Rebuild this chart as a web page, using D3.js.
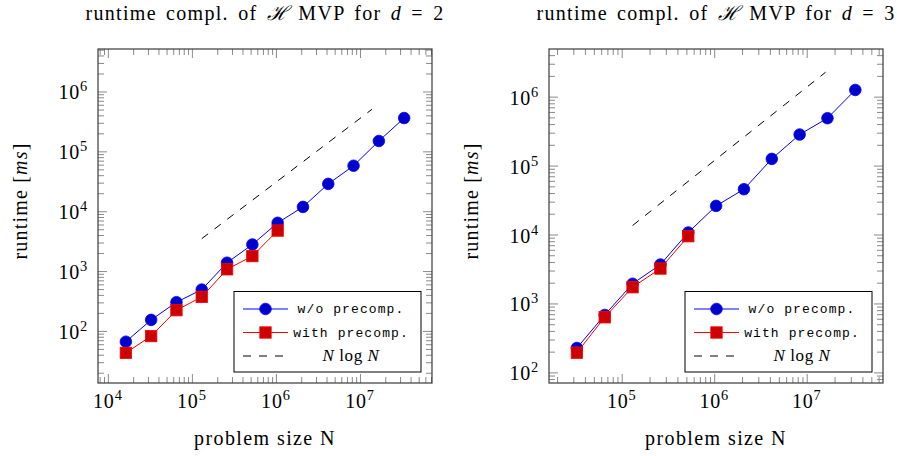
<!DOCTYPE html>
<html>
<head>
<meta charset="utf-8">
<script src="https://cdn.jsdelivr.net/npm/d3@7"></script>
<style>
  html, body { margin: 0; padding: 0; background: #fff; }
  svg { display: block; }
  .serif { font-family: "Liberation Serif", "DejaVu Serif", serif; fill: #000; }
  .mono { font-family: "Liberation Mono", "DejaVu Sans Mono", monospace; fill: #000; }
</style>
</head>
<body>
<svg id="chart" width="897" height="456"></svg>
<script>
// ---- measured runtimes of the H-matrix vector product (ms) ----

// d = 2 : problem sizes N = 2^14 ... 2^25
const sizes2d = [16384, 32768, 65536, 131072, 262144, 524288, 1048576,
                 2097152, 4194304, 8388608, 16777216, 33554432];
const runtime2dPlain = [66, 153, 302, 490, 1380, 2780, 6400,
                        11800, 28600, 57500, 149000, 360000];
const runtime2dPre = [43, 82, 222, 370, 1070, 1780, 4750];
// N log N reference line
const ref2dSizes = [131072, 13900000];
const ref2dRuntime = [3480, 504000];

// d = 3 : problem sizes N = 2^15 ... 2^25
const sizes3d = [32768, 65536, 131072, 262144, 524288, 1048576,
                 2097152, 4194304, 8388608, 16777216, 33554432];
const runtime3dPlain = [226, 681, 1930, 3670, 10700, 26000,
                        45400, 125000, 282000, 487000, 1250000];
const runtime3dPre = [193, 630, 1720, 3210, 9450];
const ref3dSizes = [131072, 16000000];
const ref3dRuntime = [13500, 2260000];

// decade exponents carrying a tick label
const xTickExps2d = [4, 5, 6, 7];
const yTickExps2d = [2, 3, 4, 5, 6];
const xTickExps3d = [5, 6, 7];
const yTickExps3d = [2, 3, 4, 5, 6];

const legendLabels = ["w/o precomp.", "with precomp.", "N log N"];

// ---- layout / style ----
const BLUE = "#0000ff", BLUE_FILL = "#0000cc";
const RED = "#ff0000", RED_FILL = "#cc0000";
const MAJOR = 9, MINOR = 6;

const panels = [
  {
    dim: 2, left: 98, top: 49, width: 334, height: 334,
    xDomain: [Math.pow(10, 3.883), Math.pow(10, 7.857)],
    yDomain: [Math.pow(10, 1.13), Math.pow(10, 6.71)],
    sizes: sizes2d, plain: runtime2dPlain, pre: runtime2dPre,
    refN: ref2dSizes, refT: ref2dRuntime,
    xExps: xTickExps2d, yExps: yTickExps2d
  },
  {
    dim: 3, left: 549, top: 49, width: 334, height: 334,
    xDomain: [Math.pow(10, 4.214), Math.pow(10, 7.825)],
    yDomain: [Math.pow(10, 1.846), Math.pow(10, 6.691)],
    sizes: sizes3d, plain: runtime3dPlain, pre: runtime3dPre,
    refN: ref3dSizes, refT: ref3dRuntime,
    xExps: xTickExps3d, yExps: yTickExps3d
  }
];

const svg = d3.select("#chart");

// all values m*10^e (m = 1..9) inside the domain
function logTicks(domain, major) {
  const [a, b] = domain, out = [];
  for (let e = Math.floor(Math.log10(a)); e <= Math.ceil(Math.log10(b)); e++) {
    for (let m = 1; m < 10; m++) {
      const v = m * Math.pow(10, e);
      if (v >= a * 0.9999 && v <= b * 1.0001 && ((m === 1) === major)) out.push(v);
    }
  }
  return out;
}

function powerLabel(sel, exp, fs) {
  sel.append("tspan").text("10");
  sel.append("tspan").attr("dy", -8).attr("font-size", fs * 0.72).text(exp);
}

function drawPanel(p) {
  const g = svg.append("g").attr("transform", `translate(${p.left},${p.top})`);
  const x = d3.scaleLog().domain(p.xDomain).range([0, p.width]);
  const y = d3.scaleLog().domain(p.yDomain).range([p.height, 0]);

  // inward ticks on all four sides
  const axes = [
    [d3.axisBottom, x, `translate(0,${p.height})`],
    [d3.axisTop, x, `translate(0,0)`],
    [d3.axisLeft, y, `translate(0,0)`],
    [d3.axisRight, y, `translate(${p.width},0)`]
  ];
  axes.forEach(([axisFn, sc, tr]) => {
    [[false, MINOR], [true, MAJOR]].forEach(([major, len]) => {
      const ag = g.append("g").attr("transform", tr)
        .call(axisFn(sc).tickValues(logTicks(sc.domain(), major))
              .tickSize(-len).tickSizeOuter(0).tickFormat(""));
      ag.select(".domain").remove();
      ag.selectAll("line").attr("stroke", "#8a8a8a").attr("stroke-width", 1);
    });
  });

  // frame
  g.append("rect")
    .attr("x", 0).attr("y", 0).attr("width", p.width).attr("height", p.height)
    .attr("fill", "none").attr("stroke", "#3a3a3a").attr("stroke-width", 1.2);

  // tick labels
  const fs = 20;
  p.xExps.forEach(e => {
    const t = g.append("text").attr("class", "serif")
      .attr("x", x(Math.pow(10, e))).attr("y", p.height + 25)
      .attr("text-anchor", "middle").attr("font-size", fs)
      .attr("letter-spacing", 0.8);
    powerLabel(t, e, fs);
  });
  p.yExps.forEach(e => {
    const t = g.append("text").attr("class", "serif")
      .attr("x", -10).attr("y", y(Math.pow(10, e)) + 8)
      .attr("text-anchor", "end").attr("font-size", fs)
      .attr("letter-spacing", 0.8);
    powerLabel(t, e, fs);
  });

  // axis labels
  g.append("text").attr("class", "serif")
    .attr("x", p.width / 2).attr("y", p.height + 62)
    .attr("text-anchor", "middle").attr("font-size", fs)
    .attr("letter-spacing", 1.4)
    .text("problem size N");
  const yl = g.append("text").attr("class", "serif")
    .attr("transform", `translate(-71,${p.height / 2 - 15}) rotate(-90)`)
    .attr("text-anchor", "middle").attr("font-size", fs)
    .attr("letter-spacing", 1.2);
  yl.append("tspan").text("runtime [");
  yl.append("tspan").attr("font-style", "italic").text("ms");
  yl.append("tspan").text("]");

  // title
  const tt = g.append("text").attr("class", "serif")
    .attr("x", p.width / 2).attr("y", 20 - p.top)
    .attr("text-anchor", "middle").attr("font-size", fs)
    .attr("letter-spacing", 1.3).attr("word-spacing", 3);
  tt.append("tspan").text("runtime compl. of ");
  tt.append("tspan").attr("font-style", "italic").text("\u210B");
  tt.append("tspan").text(" MVP for ");
  tt.append("tspan").attr("font-style", "italic").text("d");
  tt.append("tspan").text(" = " + p.dim);

  const line = d3.line().x(d => x(d[0])).y(d => y(d[1]));

  // N log N reference
  g.append("path")
    .datum(p.refN.map((n, i) => [n, p.refT[i]]))
    .attr("d", line).attr("fill", "none")
    .attr("stroke", "#000").attr("stroke-width", 1).attr("stroke-dasharray", "8,8");

  // without precomputation
  const plainPts = p.plain.map((v, i) => [p.sizes[i], v]);
  g.append("path").datum(plainPts).attr("d", line)
    .attr("fill", "none").attr("stroke", BLUE).attr("stroke-width", 1);
  g.selectAll(".mk-plain").data(plainPts).enter().append("circle")
    .attr("cx", d => x(d[0])).attr("cy", d => y(d[1])).attr("r", 5.8)
    .attr("fill", BLUE_FILL).attr("stroke", BLUE).attr("stroke-width", 0.8);

  // with precomputation
  const prePts = p.pre.map((v, i) => [p.sizes[i], v]);
  g.append("path").datum(prePts).attr("d", line)
    .attr("fill", "none").attr("stroke", RED).attr("stroke-width", 1);
  const s = 11.4;
  g.selectAll(".mk-pre").data(prePts).enter().append("rect")
    .attr("x", d => x(d[0]) - s / 2).attr("y", d => y(d[1]) - s / 2)
    .attr("width", s).attr("height", s)
    .attr("fill", RED_FILL).attr("stroke", RED).attr("stroke-width", 0.8);

  // legend
  const lw = 187, lh = 80.5;
  const lg = g.append("g")
    .attr("transform", `translate(${p.width - 11 - lw},${p.height - 11 - lh})`);
  lg.append("rect").attr("width", lw).attr("height", lh)
    .attr("fill", "#fff").attr("stroke", "#000").attr("stroke-width", 1);
  const rows = [17.5, 41, 64.5];
  const sx0 = 9, sx1 = 54, sxm = 31.5, tx = 117;
  // row 1
  lg.append("line").attr("x1", sx0).attr("x2", sx1).attr("y1", rows[0]).attr("y2", rows[0])
    .attr("stroke", BLUE).attr("stroke-width", 1);
  lg.append("circle").attr("cx", sxm).attr("cy", rows[0]).attr("r", 5.8)
    .attr("fill", BLUE_FILL).attr("stroke", BLUE).attr("stroke-width", 0.8);
  // row 2
  lg.append("line").attr("x1", sx0).attr("x2", sx1).attr("y1", rows[1]).attr("y2", rows[1])
    .attr("stroke", RED).attr("stroke-width", 1);
  lg.append("rect").attr("x", sxm - s / 2).attr("y", rows[1] - s / 2)
    .attr("width", s).attr("height", s)
    .attr("fill", RED_FILL).attr("stroke", RED).attr("stroke-width", 0.8);
  // row 3
  lg.append("line").attr("x1", sx0).attr("x2", sx1).attr("y1", rows[2]).attr("y2", rows[2])
    .attr("stroke", "#000").attr("stroke-width", 1).attr("stroke-dasharray", "8,8");

  [0, 1].forEach(i => {
    lg.append("text").attr("class", "mono")
      .attr("x", tx).attr("y", rows[i] + 4)
      .attr("text-anchor", "middle").attr("font-size", 13)
      .attr("letter-spacing", 1.1)
      .text(legendLabels[i]);
  });
  const nl = lg.append("text").attr("class", "serif")
    .attr("x", tx).attr("y", rows[2] + 5)
    .attr("text-anchor", "middle").attr("font-size", 17)
    .attr("letter-spacing", 0.6);
  const parts = legendLabels[2].split(" ");
  nl.append("tspan").attr("font-style", "italic").text(parts[0]);
  nl.append("tspan").text(" " + parts[1] + " ");
  nl.append("tspan").attr("font-style", "italic").text(parts[2]);
}

panels.forEach(drawPanel);
</script>
</body>
</html>
